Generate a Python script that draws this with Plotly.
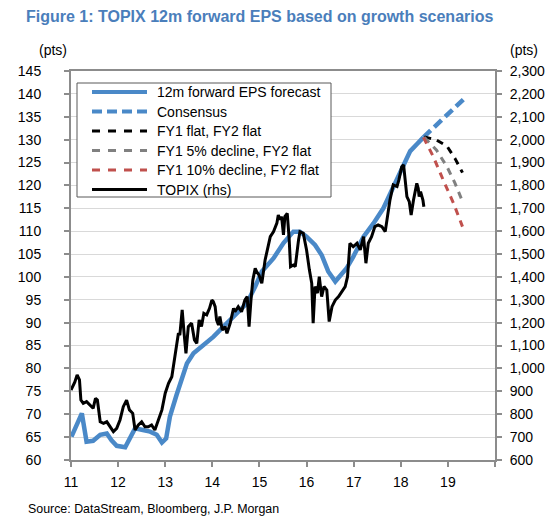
import plotly.graph_objects as go

# ---------------- data ----------------
eps_t = [2011.01, 2011.23, 2011.33, 2011.47, 2011.62, 2011.76, 2011.86, 2011.97, 2012.15, 2012.25,
         2012.36, 2012.50, 2012.68, 2012.82, 2012.93, 2013.02, 2013.10, 2013.24, 2013.35, 2013.46,
         2013.60, 2013.81, 2014.02, 2014.23, 2014.45, 2014.73, 2014.91, 2015.05, 2015.30, 2015.51,
         2015.72, 2015.86, 2016.00, 2016.18, 2016.32, 2016.46, 2016.61, 2016.71, 2016.85, 2016.99,
         2017.21, 2017.42, 2017.63, 2017.79, 2017.92, 2018.06, 2018.20, 2018.34, 2018.48]
eps_v = [65.1, 70.2, 64.0, 64.2, 65.5, 65.8, 64.3, 63.1, 62.8, 64.7,
         66.9, 66.6, 66.2, 65.5, 63.8, 64.7, 69.5, 74.2, 77.5, 81.1,
         83.3, 85.1, 86.9, 89.1, 91.3, 94.2, 97.9, 101.2, 104.1, 107.4,
         109.9, 109.9, 108.8, 107.0, 104.8, 101.2, 99.0, 100.1, 101.9, 104.4,
         108.8, 111.7, 115.0, 118.5, 121.5, 124.8, 127.5, 129.0, 130.5]

cons_t = [2018.48, 2018.90, 2019.33]
cons_v = [130.5, 134.7, 138.8]

flat_t = [2018.50, 2018.76, 2018.98, 2019.15, 2019.31]
flat_v = [130.6, 129.9, 128.6, 125.9, 122.8]

dec5_t = [2018.50, 2018.76, 2018.98, 2019.15, 2019.31]
dec5_v = [130.5, 127.7, 124.1, 120.5, 116.5]

dec10_t = [2018.48, 2018.69, 2018.90, 2019.12, 2019.31]
dec10_v = [130.5, 126.3, 121.2, 116.1, 111.0]

topix_t = [2011.00, 2011.05, 2011.08, 2011.13, 2011.18, 2011.21, 2011.26, 2011.33, 2011.40, 2011.47,
           2011.52, 2011.56, 2011.62, 2011.69, 2011.76, 2011.83, 2011.90, 2011.97, 2012.04, 2012.11,
           2012.18, 2012.24, 2012.31, 2012.36, 2012.43, 2012.50, 2012.57, 2012.64, 2012.71, 2012.78,
           2012.85, 2012.93, 2013.00, 2013.07, 2013.14, 2013.21, 2013.28, 2013.31, 2013.36, 2013.40,
           2013.44, 2013.49, 2013.56, 2013.62, 2013.67, 2013.72, 2013.77, 2013.82, 2013.88, 2013.94,
           2013.99, 2014.02, 2014.06, 2014.09, 2014.13, 2014.16, 2014.21, 2014.27, 2014.31, 2014.38,
           2014.41, 2014.45, 2014.48, 2014.55, 2014.62, 2014.69, 2014.74, 2014.78, 2014.82, 2014.86,
           2014.91, 2014.94, 2014.99, 2015.05, 2015.12, 2015.18, 2015.23, 2015.30, 2015.37, 2015.40,
           2015.44, 2015.47, 2015.51, 2015.54, 2015.59, 2015.63, 2015.66, 2015.72, 2015.76, 2015.83,
           2015.86, 2015.93, 2016.00, 2016.06, 2016.11, 2016.14, 2016.18, 2016.23, 2016.27, 2016.32,
           2016.37, 2016.43, 2016.48, 2016.54, 2016.61, 2016.68, 2016.75, 2016.82, 2016.87, 2016.92,
           2016.99, 2017.07, 2017.14, 2017.21, 2017.26, 2017.31, 2017.38, 2017.45, 2017.52, 2017.60,
           2017.67, 2017.72, 2017.77, 2017.84, 2017.92, 2017.96, 2018.02, 2018.06, 2018.09, 2018.13,
           2018.18, 2018.22, 2018.27, 2018.30, 2018.34, 2018.37, 2018.39, 2018.42, 2018.47, 2018.49]
topix_v = [906, 928, 940, 972, 950, 862, 848, 855, 840, 826,
           870, 862, 767, 760, 767, 745, 724, 738, 775, 833,
           862, 819, 804, 731, 753, 767, 745, 745, 753, 731,
           775, 819, 892, 935, 964, 1052, 1154, 1146, 1256, 1154,
           1066, 1183, 1198, 1125, 1110, 1212, 1183, 1241, 1234, 1263,
           1299, 1292, 1270, 1212, 1190, 1227, 1168, 1183, 1154, 1198,
           1234, 1263, 1248, 1270, 1248, 1299, 1314, 1183, 1299, 1387,
           1438, 1423, 1409, 1372, 1474, 1532, 1576, 1598, 1635, 1671,
           1650, 1664, 1584, 1664, 1678, 1569, 1445, 1452, 1445, 1562,
           1598, 1591, 1518, 1431, 1372, 1198, 1358, 1329, 1401, 1314,
           1358, 1343, 1205, 1270, 1299, 1314, 1336, 1358, 1401, 1547,
           1532, 1547, 1518, 1576, 1460, 1547, 1576, 1620, 1627, 1620,
           1598, 1664, 1736, 1802, 1795, 1824, 1882, 1890, 1824, 1751,
           1729, 1671, 1736, 1766, 1809, 1787, 1751, 1773, 1736, 1707]

x_ticks = [2011, 2012, 2013, 2014, 2015, 2016, 2017, 2018, 2019, 2020]
x_ticktext = ["11", "12", "13", "14", "15", "16", "17", "18", "19", ""]

legend_names = ["12m forward EPS forecast", "Consensus", "FY1 flat, FY2 flat",
                "FY1 5% decline, FY2 flat", "FY1 10% decline, FY2 flat", "TOPIX (rhs)"]

# ---------------- styles ----------------
BLUE = "#4A89C8"
GREY = "#808080"
RED = "#C0504D"
BLACK = "#000000"
AXIS = "#8C8C8C"
GRID = "#D9D9D9"
FONT = "Liberation Sans, Arial, sans-serif"

W, H = 560, 528
L, R, T, B = 71, 495, 71, 460

def px(x):
    return (x - L) / (R - L)

def py(y):
    return (B - y) / (B - T)

fig = go.Figure()
fig.add_trace(go.Scatter(x=topix_t, y=topix_v, yaxis="y2", mode="lines",
                         line=dict(color=BLACK, width=3), name=legend_names[5], showlegend=False))
fig.add_trace(go.Scatter(x=eps_t, y=eps_v, mode="lines",
                         line=dict(color=BLUE, width=4.5), name=legend_names[0], showlegend=False))
fig.add_trace(go.Scatter(x=cons_t, y=cons_v, mode="lines",
                         line=dict(color=BLUE, width=4.5, dash="10px,5px"), name=legend_names[1], showlegend=False))
fig.add_trace(go.Scatter(x=flat_t, y=flat_v, mode="lines",
                         line=dict(color=BLACK, width=3, dash="7px,6px"), name=legend_names[2], showlegend=False))
fig.add_trace(go.Scatter(x=dec5_t, y=dec5_v, mode="lines",
                         line=dict(color=GREY, width=3, dash="7px,6px"), name=legend_names[3], showlegend=False))
fig.add_trace(go.Scatter(x=dec10_t, y=dec10_v, mode="lines",
                         line=dict(color=RED, width=3, dash="7px,6px"), name=legend_names[4], showlegend=False))

# ---------------- manual legend ----------------
shapes = [dict(type="rect", xref="paper", yref="paper", x0=px(77), x1=px(331), y0=py(197), y1=py(83),
               line=dict(color="#595959", width=1), fillcolor="white", layer="above")]
leg_styles = [(BLUE, 4, "solid"), (BLUE, 4, "10px,5px"), (BLACK, 3, "8px,8px"),
              (GREY, 3, "8px,8px"), (RED, 3, "8px,8px"), (BLACK, 3, "solid")]
leg_y = [92, 111.5, 131, 150.5, 170, 189.5]
annotations = []
for name, (c, w, d), yy in zip(legend_names, leg_styles, leg_y):
    shapes.append(dict(type="line", xref="paper", yref="paper", x0=px(92), x1=px(147), y0=py(yy), y1=py(yy),
                       line=dict(color=c, width=w, dash=d), layer="above"))
    annotations.append(dict(text=name, xref="paper", yref="paper", x=px(155), y=py(yy),
                            xanchor="left", yanchor="middle", showarrow=False,
                            font=dict(family=FONT, size=14, color="#000000")))

annotations += [
    dict(text="(pts)", xref="paper", yref="paper", x=px(69), y=py(50), xanchor="right", yanchor="middle",
         showarrow=False, font=dict(family=FONT, size=14, color="#000000")),
    dict(text="(pts)", xref="paper", yref="paper", x=px(508), y=py(50), xanchor="left", yanchor="middle",
         showarrow=False, font=dict(family=FONT, size=14, color="#000000")),
    dict(text="Source: DataStream, Bloomberg, J.P. Morgan", xref="paper", yref="paper", x=px(26), y=py(509),
         xanchor="left", yanchor="middle", showarrow=False, font=dict(family=FONT, size=12.4, color="#000000")),
]

fig.update_layout(
    width=W, height=H,
    margin=dict(l=L, r=W - R, t=T, b=H - B, pad=0),
    paper_bgcolor="white", plot_bgcolor="white",
    font=dict(family=FONT, size=14, color="#000000"),
    title=dict(text="<b>Figure 1: TOPIX 12m forward EPS based on growth scenarios</b>",
               xref="container", yref="container", x=26 / W, xanchor="left",
               y=1 - 16 / H, yanchor="middle", font=dict(family=FONT, size=16, color="#4A7EBB")),
    xaxis=dict(range=[2011, 2020], tickmode="array", tickvals=x_ticks, ticktext=x_ticktext,
               ticks="outside", ticklen=5, tickwidth=1.5, tickcolor=AXIS,
               showline=True, linecolor=AXIS, linewidth=2, mirror=True,
               showgrid=False, zeroline=False, tickfont=dict(size=14), ticklabelstandoff=3),
    yaxis=dict(range=[60, 145], tick0=60, dtick=5, ticks="outside", ticklen=5, tickwidth=1.5, tickcolor=AXIS,
               showline=True, linecolor=AXIS, linewidth=2, mirror=True,
               showgrid=True, gridcolor=GRID, gridwidth=1.3, zeroline=False,
               tickfont=dict(size=14), ticklabelstandoff=20),
    yaxis2=dict(range=[600, 2300], tick0=600, dtick=100, tickformat=",", overlaying="y", side="right",
                ticks="outside", ticklen=5, tickwidth=1.5, tickcolor=AXIS,
                showline=True, linecolor=AXIS, linewidth=2, showgrid=False, zeroline=False,
                tickfont=dict(size=14), ticklabelstandoff=5),
    shapes=shapes, annotations=annotations, showlegend=False,
)

fig.write_html("out.html", config={"displayModeBar": False},
               post_script="document.body.style.margin='0';document.body.style.overflow='hidden';")
